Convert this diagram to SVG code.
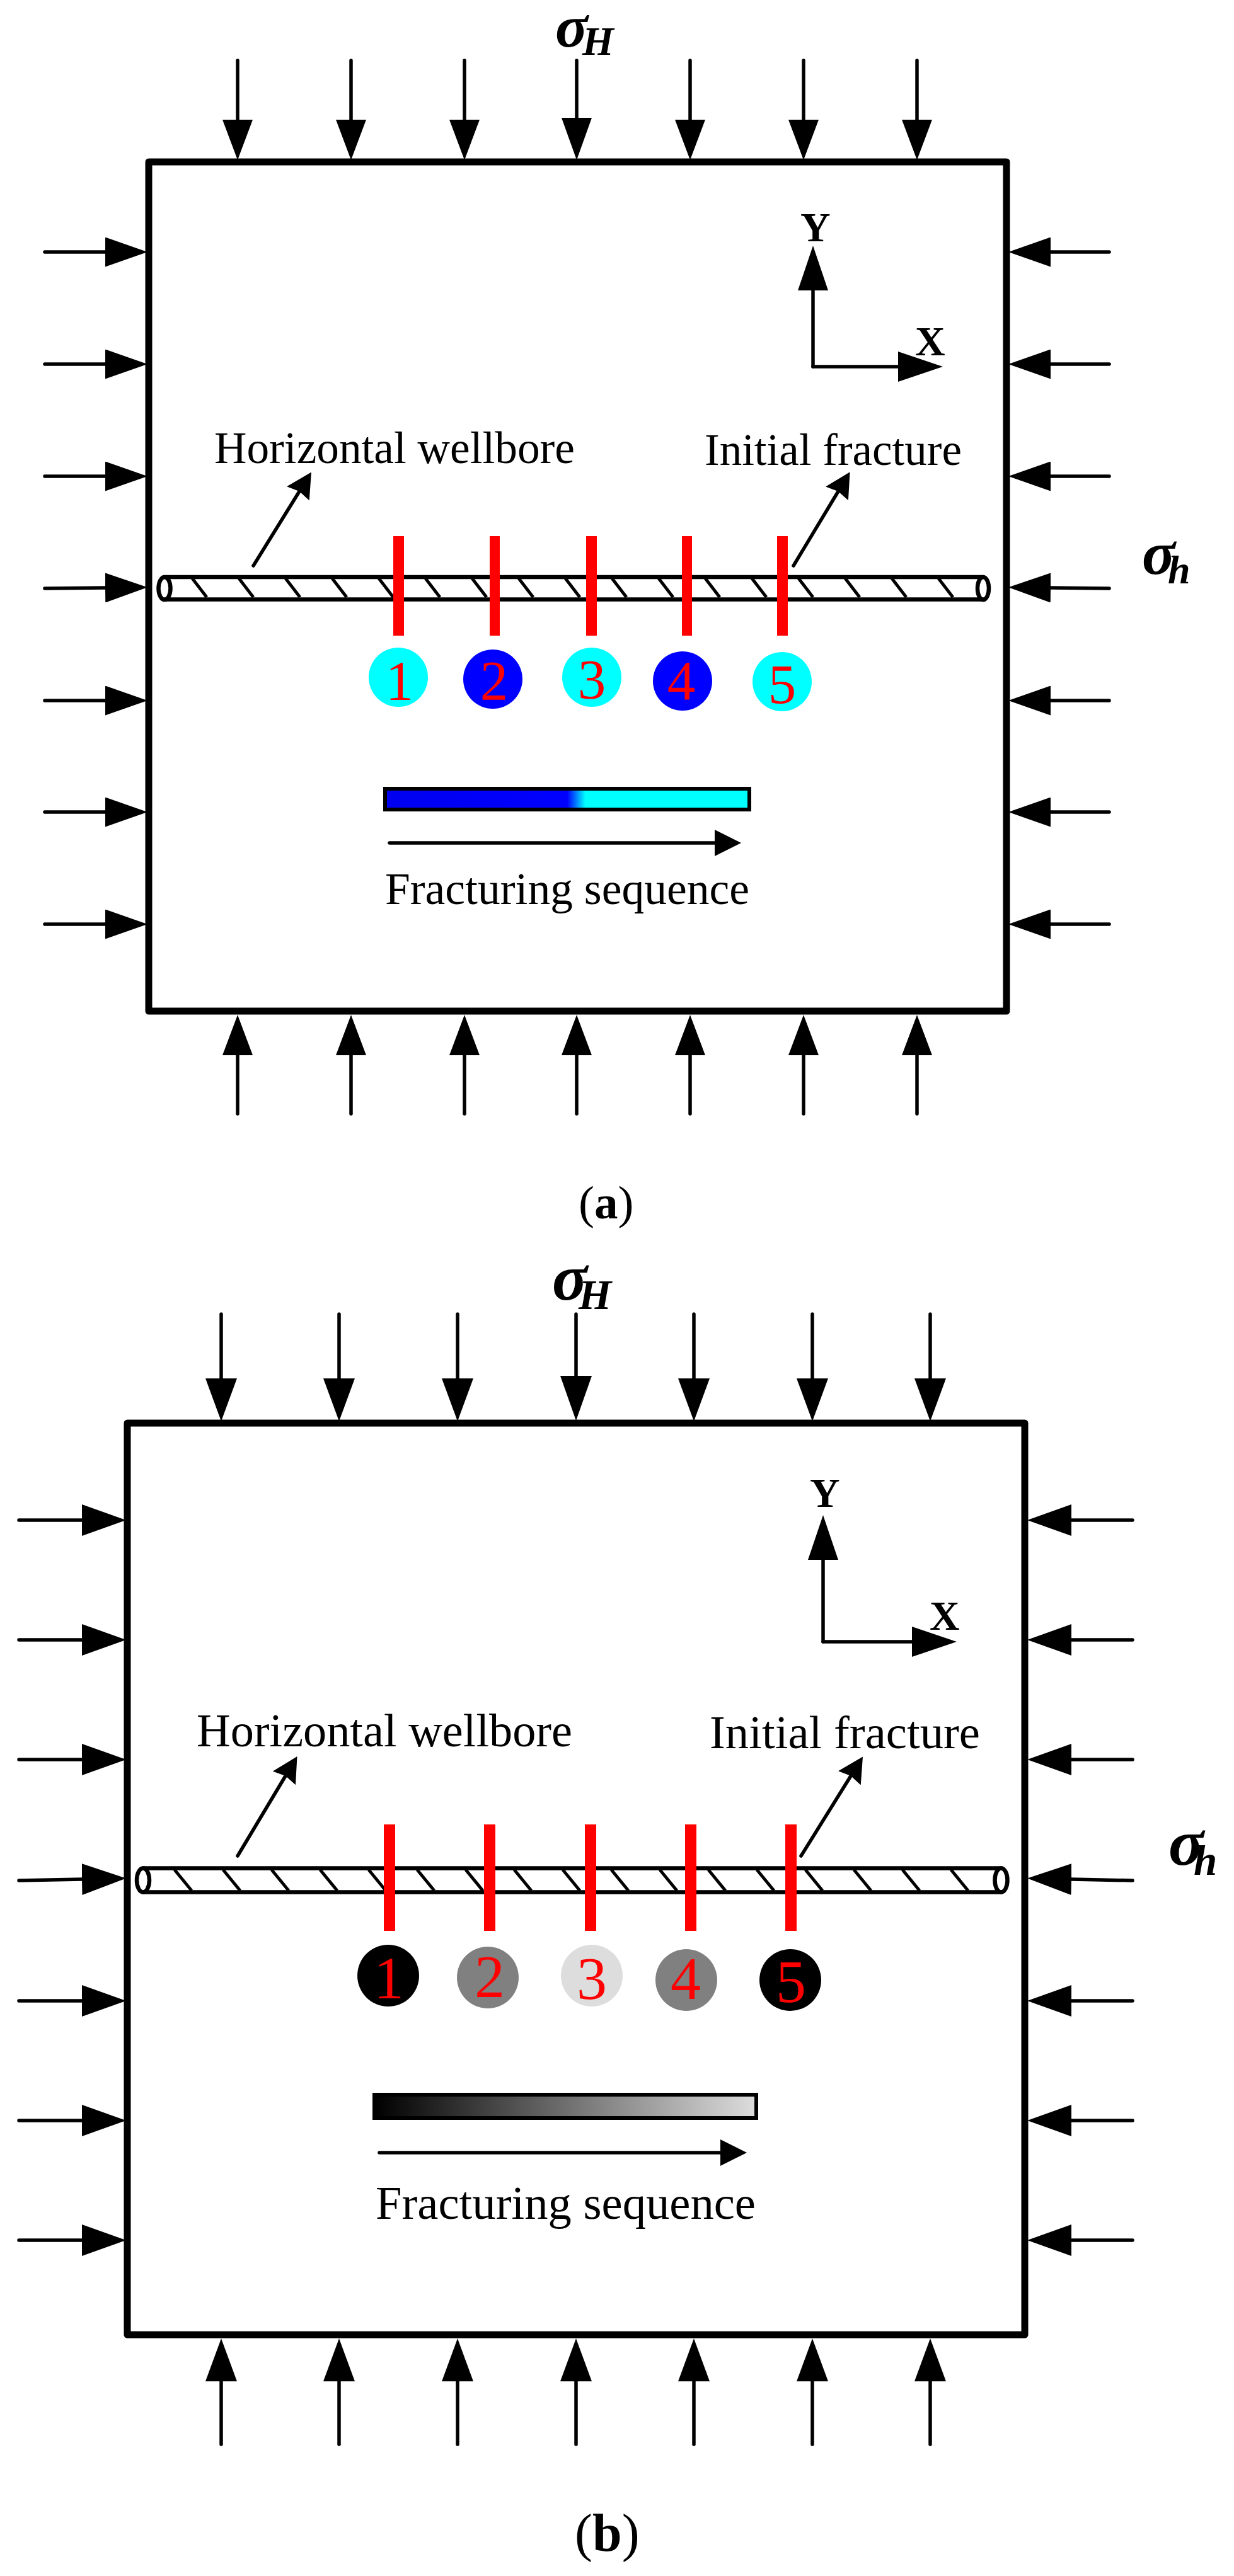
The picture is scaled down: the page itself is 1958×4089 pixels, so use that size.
<svg xmlns="http://www.w3.org/2000/svg" width="1958" height="4089" viewBox="0 0 1958 4089">
<style>
text{font-family:"Liberation Serif","Times New Roman",serif;fill:#000}
.frame{fill:#fff;stroke:#000;stroke-width:11;stroke-linejoin:round}
.load{stroke:#000;stroke-width:5.5;fill:none;stroke-linecap:round}
.tube{stroke:#000;stroke-width:6.5;fill:none;stroke-linecap:round}
.hatch{stroke:#000;stroke-width:5;fill:none}
.frac{fill:#f00}
.lab{font-size:71px}
.labb{font-size:74.5px}
.ax{font-size:66px;font-weight:bold}
.sig{font-weight:bold;font-style:italic}
.num{fill:#f00;text-anchor:middle}
.cap{font-size:75px}
.ah{fill:#000}
</style>
<defs>
<marker id="mv" markerUnits="userSpaceOnUse" markerWidth="64" markerHeight="48" refX="0" refY="24" orient="auto"><path class="ah" d="M0 0L64 24L0 48z"/></marker>
<marker id="mvl" markerUnits="userSpaceOnUse" markerWidth="67" markerHeight="48" refX="0" refY="24" orient="auto"><path class="ah" d="M0 0L67 24L0 48z"/></marker>
<marker id="mh" markerUnits="userSpaceOnUse" markerWidth="67" markerHeight="47" refX="0" refY="23.5" orient="auto"><path class="ah" d="M0 0L67 23.5L0 47z"/></marker>
<marker id="mvb" markerUnits="userSpaceOnUse" markerWidth="68" markerHeight="50" refX="0" refY="25" orient="auto"><path class="ah" d="M0 0L68 25L0 50z"/></marker>
<marker id="mvbl" markerUnits="userSpaceOnUse" markerWidth="71" markerHeight="50" refX="0" refY="25" orient="auto"><path class="ah" d="M0 0L71 25L0 50z"/></marker>
<marker id="mhb" markerUnits="userSpaceOnUse" markerWidth="70" markerHeight="50" refX="0" refY="25" orient="auto"><path class="ah" d="M0 0L70 25L0 50z"/></marker>
<marker id="max" markerUnits="userSpaceOnUse" markerWidth="71" markerHeight="48" refX="0" refY="24" orient="auto"><path class="ah" d="M0 0L71 24L0 48z"/></marker>
<marker id="ml" markerUnits="userSpaceOnUse" markerWidth="40" markerHeight="42" refX="4" refY="21" orient="auto"><path class="ah" d="M0 0L40 21L0 42L4 21z"/></marker>
<marker id="ms" markerUnits="userSpaceOnUse" markerWidth="42" markerHeight="42" refX="0" refY="21" orient="auto"><path class="ah" d="M0 0L42 21L0 42z"/></marker>
<linearGradient id="ga"><stop offset="0" stop-color="#0000f0"/><stop offset=".5" stop-color="#0000ff"/><stop offset=".55" stop-color="#00ffff"/><stop offset="1" stop-color="#00ffff"/></linearGradient>
<linearGradient id="gb"><stop offset="0" stop-color="#000"/><stop offset="1" stop-color="#ddd"/></linearGradient>
</defs>
<rect width="1958" height="4089" fill="#fff"/>

<!-- panel a -->
<g id="a-frame"><rect class="frame" x="236" y="257" width="1361" height="1348"/></g>
<g id="a-wellbore">
<path class="tube" d="M261 916H1560M261 951.5H1560"/>
<ellipse class="tube" cx="261" cy="934" rx="9.5" ry="18" fill="#fff"/>
<ellipse class="tube" cx="1560" cy="934" rx="9" ry="18" fill="#fff"/>
<path class="hatch" d="M305 918l23 30M379 918l23 30M453 918l23 30M527 918l23 30M601 918l23 30M675 918l23 30M749 918l23 30M823 918l23 30M897 918l23 30M971 918l23 30M1045 918l23 30M1119 918l23 30M1193 918l23 30M1267 918l23 30M1341 918l23 30M1415 918l23 30M1489 918l23 30"/>
</g>
<g id="a-fractures">
<rect class="frac" x="624" y="851" width="17" height="158"/>
<rect class="frac" x="777" y="851" width="16" height="158"/>
<rect class="frac" x="930" y="851" width="17" height="158"/>
<rect class="frac" x="1082" y="851" width="16" height="158"/>
<rect class="frac" x="1233" y="851" width="17" height="158"/>
</g>
<g id="a-stage-1"><circle cx="632" cy="1075" r="47" fill="#0ff"/><text class="num" x="634" y="1110" font-size="89">1</text></g>
<g id="a-stage-2"><circle cx="782" cy="1078" r="47" fill="#00f"/><text class="num" x="784" y="1110" font-size="89">2</text></g>
<g id="a-stage-3"><circle cx="939" cy="1075" r="47" fill="#0ff"/><text class="num" x="939" y="1108" font-size="89">3</text></g>
<g id="a-stage-4"><circle cx="1083" cy="1081" r="47" fill="#00f"/><text class="num" x="1081" y="1110" font-size="89">4</text></g>
<g id="a-stage-5"><circle cx="1241" cy="1082" r="47" fill="#0ff"/><text class="num" x="1241" y="1116" font-size="89">5</text></g>
<g id="a-colorbar"><rect x="611" y="1252" width="578" height="33" fill="url(#ga)" stroke="#000" stroke-width="6"/></g>
<g id="a-labels">
<text class="sig"><tspan x="881" y="74" font-size="96">σ</tspan><tspan x="924" y="87" font-size="64">H</tspan></text>
<text class="sig"><tspan x="1812" y="911" font-size="98">σ</tspan><tspan x="1853" y="926" font-size="64">h</tspan></text>
<text class="ax" x="1270" y="383">Y</text>
<text class="ax" x="1452" y="564">X</text>
<text class="lab" x="340" y="735" textLength="572" lengthAdjust="spacingAndGlyphs">Horizontal wellbore</text>
<text class="lab" x="1118" y="738" textLength="408" lengthAdjust="spacingAndGlyphs">Initial fracture</text>
<text class="lab" x="611" y="1435" textLength="578" lengthAdjust="spacingAndGlyphs">Fracturing sequence</text>
<text class="cap" x="918" y="1934">(<tspan font-weight="bold">a</tspan>)</text>
</g>
<g id="a-connectors">
<path class="load" marker-end="url(#mv)" d="M377 96V190"/><path class="load" marker-end="url(#mv)" d="M557 96V190"/><path class="load" marker-end="url(#mv)" d="M737 96V190"/><path class="load" marker-end="url(#mvl)" d="M915 96V187"/><path class="load" marker-end="url(#mv)" d="M1095 96V190"/><path class="load" marker-end="url(#mv)" d="M1275 96V190"/><path class="load" marker-end="url(#mv)" d="M1455 96V190"/>
<path class="load" marker-end="url(#mv)" d="M377 1768V1675"/><path class="load" marker-end="url(#mv)" d="M557 1768V1675"/><path class="load" marker-end="url(#mv)" d="M737 1768V1675"/><path class="load" marker-end="url(#mv)" d="M915 1768V1675"/><path class="load" marker-end="url(#mv)" d="M1095 1768V1675"/><path class="load" marker-end="url(#mv)" d="M1275 1768V1675"/><path class="load" marker-end="url(#mv)" d="M1455 1768V1675"/>
<path class="load" marker-end="url(#mh)" d="M71 400H167"/><path class="load" marker-end="url(#mh)" d="M71 578H167"/><path class="load" marker-end="url(#mh)" d="M71 756H167"/><path class="load" marker-end="url(#mh)" d="M71 934L167 933"/><path class="load" marker-end="url(#mh)" d="M71 1112H167"/><path class="load" marker-end="url(#mh)" d="M71 1289H167"/><path class="load" marker-end="url(#mh)" d="M71 1467H167"/>
<path class="load" marker-end="url(#mh)" d="M1760 400H1667"/><path class="load" marker-end="url(#mh)" d="M1760 578H1667"/><path class="load" marker-end="url(#mh)" d="M1760 756H1667"/><path class="load" marker-end="url(#mh)" d="M1760 934L1667 933"/><path class="load" marker-end="url(#mh)" d="M1760 1112H1667"/><path class="load" marker-end="url(#mh)" d="M1760 1289H1667"/><path class="load" marker-end="url(#mh)" d="M1760 1467H1667"/>
<path class="load" marker-end="url(#max)" d="M1290 582V461"/><path class="load" marker-end="url(#max)" d="M1290 582H1425"/>
<path class="load" marker-end="url(#ml)" d="M402 898L475 780"/><path class="load" marker-end="url(#ml)" d="M1259 898L1330 780"/>
<path class="load" marker-end="url(#ms)" d="M618 1338H1134"/>
</g>

<!-- panel b -->
<g id="b-frame"><rect class="frame" x="202" y="2259" width="1424" height="1447"/></g>
<g id="b-wellbore">
<path class="tube" d="M227 2965.5H1589M227 3003.5H1589"/>
<ellipse class="tube" cx="227" cy="2984.5" rx="10" ry="19" fill="#fff"/>
<ellipse class="tube" cx="1588.5" cy="2984.5" rx="10" ry="19" fill="#fff"/>
<path class="hatch" d="M277 2968l27 33M354 2968l27 33M431 2968l27 33M508 2968l27 33M585 2968l27 33M662 2968l27 33M739 2968l27 33M816 2968l27 33M893 2968l27 33M970 2968l27 33M1047 2968l27 33M1124 2968l27 33M1201 2968l27 33M1278 2968l27 33M1355 2968l27 33M1432 2968l27 33M1509 2968l27 33"/>
</g>
<g id="b-fractures">
<rect class="frac" x="609" y="2896" width="18" height="169"/>
<rect class="frac" x="768" y="2896" width="18" height="169"/>
<rect class="frac" x="928" y="2896" width="18" height="169"/>
<rect class="frac" x="1087" y="2896" width="18" height="169"/>
<rect class="frac" x="1246" y="2896" width="18" height="169"/>
</g>
<g id="b-stage-1"><circle cx="616" cy="3136" r="49" fill="#000"/><text class="num" x="617" y="3172" font-size="96">1</text></g>
<g id="b-stage-2"><circle cx="774" cy="3139" r="49" fill="#808080"/><text class="num" x="777" y="3170" font-size="96">2</text></g>
<g id="b-stage-3"><circle cx="939" cy="3136" r="49" fill="#ddd"/><text class="num" x="939" y="3173" font-size="96">3</text></g>
<g id="b-stage-4"><circle cx="1089" cy="3143" r="49" fill="#808080"/><text class="num" x="1088" y="3173" font-size="96">4</text></g>
<g id="b-stage-5"><circle cx="1254" cy="3143" r="49" fill="#000"/><text class="num" x="1255" y="3178" font-size="96">5</text></g>
<g id="b-colorbar"><rect x="594" y="3325" width="606" height="37" fill="url(#gb)" stroke="#000" stroke-width="6"/></g>
<g id="b-labels">
<text class="sig"><tspan x="876" y="2063" font-size="104">σ</tspan><tspan x="918" y="2078" font-size="67">H</tspan></text>
<text class="sig"><tspan x="1854" y="2960" font-size="104">σ</tspan><tspan x="1894" y="2976" font-size="67">h</tspan></text>
<text class="ax" x="1285" y="2392">Y</text>
<text class="ax" x="1475" y="2587">X</text>
<text class="labb" x="312" y="2772" textLength="596" lengthAdjust="spacingAndGlyphs">Horizontal wellbore</text>
<text class="labb" x="1126" y="2775" textLength="429" lengthAdjust="spacingAndGlyphs">Initial fracture</text>
<text class="labb" x="596" y="3522" textLength="603" lengthAdjust="spacingAndGlyphs">Fracturing sequence</text>
<text class="cap" x="912" y="4049" style="font-size:84px">(<tspan font-weight="bold">b</tspan>)</text>
</g>
<g id="b-connectors">
<path class="load" marker-end="url(#mvb)" d="M351 2086V2188"/><path class="load" marker-end="url(#mvb)" d="M538 2086V2188"/><path class="load" marker-end="url(#mvb)" d="M726 2086V2188"/><path class="load" marker-end="url(#mvbl)" d="M914 2086V2184"/><path class="load" marker-end="url(#mvb)" d="M1101 2086V2188"/><path class="load" marker-end="url(#mvb)" d="M1289 2086V2188"/><path class="load" marker-end="url(#mvb)" d="M1476 2086V2188"/>
<path class="load" marker-end="url(#mvb)" d="M351 3880V3780"/><path class="load" marker-end="url(#mvb)" d="M538 3880V3780"/><path class="load" marker-end="url(#mvb)" d="M726 3880V3780"/><path class="load" marker-end="url(#mvb)" d="M914 3880V3780"/><path class="load" marker-end="url(#mvb)" d="M1101 3880V3780"/><path class="load" marker-end="url(#mvb)" d="M1289 3880V3780"/><path class="load" marker-end="url(#mvb)" d="M1476 3880V3780"/>
<path class="load" marker-end="url(#mhb)" d="M30 2413H130"/><path class="load" marker-end="url(#mhb)" d="M30 2603H130"/><path class="load" marker-end="url(#mhb)" d="M30 2793H130"/><path class="load" marker-end="url(#mhb)" d="M30 2985L130 2983"/><path class="load" marker-end="url(#mhb)" d="M30 3176H130"/><path class="load" marker-end="url(#mhb)" d="M30 3366H130"/><path class="load" marker-end="url(#mhb)" d="M30 3556H130"/>
<path class="load" marker-end="url(#mhb)" d="M1797 2413H1700"/><path class="load" marker-end="url(#mhb)" d="M1797 2603H1700"/><path class="load" marker-end="url(#mhb)" d="M1797 2793H1700"/><path class="load" marker-end="url(#mhb)" d="M1797 2985L1700 2983"/><path class="load" marker-end="url(#mhb)" d="M1797 3176H1700"/><path class="load" marker-end="url(#mhb)" d="M1797 3366H1700"/><path class="load" marker-end="url(#mhb)" d="M1797 3556H1700"/>
<path class="load" marker-end="url(#max)" d="M1306 2606V2476"/><path class="load" marker-end="url(#max)" d="M1306 2606H1447"/>
<path class="load" marker-end="url(#ml)" d="M377 2946L453 2819"/><path class="load" marker-end="url(#ml)" d="M1271 2946L1350 2819"/>
<path class="load" marker-end="url(#ms)" d="M602 3417H1143"/>
</g>
</svg>
